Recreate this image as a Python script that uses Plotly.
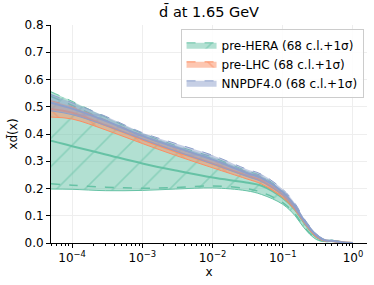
import plotly.graph_objects as go

# x grid (log scale)
x = [5e-5, 1e-4, 3e-4, 1e-3, 3e-3, 1e-2, 3e-2, 0.05, 0.1, 0.15, 0.2, 0.3, 0.4, 0.5, 0.7, 1.0]

# pre-HERA
hera_up   = [0.555, 0.520, 0.462, 0.402, 0.358, 0.315, 0.266, 0.246, 0.190, 0.138, 0.088, 0.028, 0.012, 0.010, 0.004, 0.0]
hera_c    = [0.375, 0.355, 0.325, 0.292, 0.266, 0.240, 0.222, 0.210, 0.165, 0.122, 0.076, 0.022, 0.009, 0.008, 0.003, 0.0]
hera_lo   = [0.198, 0.197, 0.192, 0.193, 0.198, 0.202, 0.192, 0.178, 0.142, 0.100, 0.056, 0.013, 0.005, 0.005, 0.002, 0.0]
hera_s_up = [0.538, 0.505, 0.450, 0.392, 0.350, 0.308, 0.260, 0.240, 0.185, 0.134, 0.084, 0.026, 0.011, 0.009, 0.004, 0.0]
hera_s_lo = [0.217, 0.212, 0.205, 0.201, 0.204, 0.209, 0.200, 0.186, 0.148, 0.106, 0.060, 0.015, 0.006, 0.006, 0.002, 0.0]

# pre-LHC
lhc_up    = [0.522, 0.500, 0.450, 0.395, 0.350, 0.306, 0.260, 0.240, 0.186, 0.135, 0.085, 0.028, 0.011, 0.009, 0.003, 0.0]
lhc_c     = [0.492, 0.478, 0.432, 0.380, 0.336, 0.291, 0.248, 0.228, 0.176, 0.128, 0.080, 0.025, 0.009, 0.007, 0.003, 0.0]
lhc_lo    = [0.462, 0.455, 0.415, 0.365, 0.321, 0.276, 0.236, 0.216, 0.166, 0.120, 0.075, 0.022, 0.007, 0.006, 0.002, 0.0]

# NNPDF4.0
nn_up     = [0.545, 0.515, 0.465, 0.405, 0.365, 0.322, 0.272, 0.252, 0.197, 0.145, 0.091, 0.034, 0.012, 0.010, 0.004, 0.0]
nn_c      = [0.515, 0.493, 0.448, 0.393, 0.351, 0.306, 0.258, 0.238, 0.186, 0.135, 0.084, 0.029, 0.010, 0.008, 0.003, 0.0]
nn_lo     = [0.485, 0.471, 0.431, 0.381, 0.337, 0.290, 0.245, 0.225, 0.175, 0.125, 0.078, 0.025, 0.008, 0.007, 0.002, 0.0]

# axis ticks
x_tickvals = [1e-4, 1e-3, 1e-2, 1e-1, 1.0]
x_ticktext = ["10<sup>\u22124</sup>", "10<sup>\u22123</sup>", "10<sup>\u22122</sup>", "10<sup>\u22121</sup>", "10<sup>0</sup>"]
x_minor = [m * d for d in [1e-5, 1e-4, 1e-3, 1e-2, 1e-1] for m in range(2, 10)]

series = [
    ("pre-HERA (68 c.l.+1σ)", "#66c2a5", "rgba(102,194,165,0.5)", "/", hera_up, hera_c, hera_lo, hera_s_up, hera_s_lo),
    ("pre-LHC (68 c.l.+1σ)", "#fc8d62", "rgba(252,141,98,0.5)", "\\", lhc_up, lhc_c, lhc_lo, None, None),
    ("NNPDF4.0 (68 c.l.+1σ)", "#8da0cb", "rgba(141,160,203,0.5)", "-", nn_up, nn_c, nn_lo, None, None),
]

fig = go.Figure()
for name, col, fcol, hatch, up, c, lo, sup, slo in series:
    fig.add_trace(go.Scatter(x=x, y=lo, mode="lines", line=dict(color=col, width=1, shape="spline"),
                             showlegend=False, hoverinfo="skip"))
    fig.add_trace(go.Scatter(x=x, y=up, mode="lines", fill="tonexty", fillcolor=fcol,
                             fillpattern=dict(shape=hatch, fgcolor=col, bgcolor=fcol, size=20, solidity=0.08),
                             line=dict(color=col, width=1, shape="spline", dash="dash"),
                             name=name))
    fig.add_trace(go.Scatter(x=x, y=c, mode="lines", line=dict(color=col, width=2, shape="spline"),
                             showlegend=False, hoverinfo="skip"))
    if sup is not None:
        fig.add_trace(go.Scatter(x=x, y=sup, mode="lines", line=dict(color=col, width=1.5, dash="dash", shape="spline"),
                                 showlegend=False, hoverinfo="skip"))
        fig.add_trace(go.Scatter(x=x, y=slo, mode="lines", line=dict(color=col, width=1.5, dash="dash", shape="spline"),
                                 showlegend=False, hoverinfo="skip"))

font = "DejaVu Sans"
fig.update_layout(
    width=374, height=285,
    margin=dict(l=51, r=7, t=25, b=42, autoexpand=False),
    paper_bgcolor="white", plot_bgcolor="white",
    font=dict(family=font, size=12, color="black"),
    title=dict(text="d\u0304 at 1.65 GeV", x=0.559, xanchor="center", y=0.958, yanchor="middle",
               font=dict(size=14.5)),
    legend=dict(x=0.41, y=0.98, xanchor="left", yanchor="top", bgcolor="rgba(255,255,255,0.85)",
                bordercolor="#cccccc", borderwidth=1, font=dict(size=12), tracegroupgap=0,
                itemwidth=30, traceorder="normal"),
    showlegend=True,
)
fig.update_xaxes(type="log", range=[-4.301, 0.2], tickmode="array", tickvals=x_tickvals, ticktext=x_ticktext,
                 showline=True, linecolor="black", linewidth=1,
                 ticks="outside", ticklen=4, tickcolor="black",
                 minor=dict(tickmode="array", tickvals=x_minor, ticks="outside", ticklen=2, tickcolor="black", showgrid=False),
                 showgrid=True, gridcolor="#eeeeee", zeroline=False,
                 title=dict(text="x", standoff=2, font=dict(size=12)))
fig.update_yaxes(range=[0, 0.8], dtick=0.1, tickformat=".1f",
                 showline=True, linecolor="black", linewidth=1,
                 ticks="outside", ticklen=4, tickcolor="black",
                 showgrid=True, gridcolor="#eeeeee", zeroline=False,
                 title=dict(text="xd\u0304(x)", standoff=4, font=dict(size=12)))

fig.write_html("out.html", config={"displayModeBar": False},
               post_script="document.body.style.margin='0';")
